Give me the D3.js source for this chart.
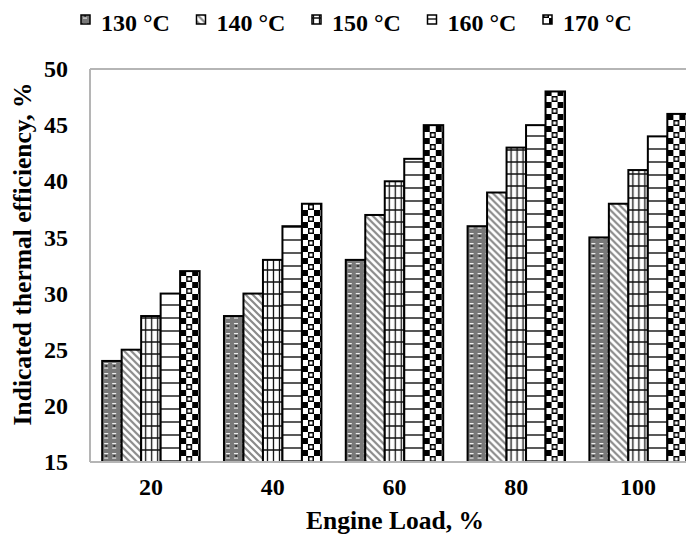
<!DOCTYPE html>
<html>
<head>
<meta charset="utf-8">
<script src="https://cdn.jsdelivr.net/npm/d3@7"></script>
<style>
  html, body { margin: 0; padding: 0; background: #fff; }
</style>
</head>
<body>
<div class="app"></div>
<script>
// Data
const loads = ['20', '40', '60', '80', '100'];
const series = ['130 °C', '140 °C', '150 °C', '160 °C', '170 °C'];
const t130 = [24, 28, 33, 36, 35];
const t140 = [25, 30, 37, 39, 38];
const t150 = [28, 33, 40, 43, 41];
const t160 = [30, 36, 42, 45, 44];
const t170 = [32, 38, 45, 48, 46];
const yTicks = [15, 20, 25, 30, 35, 40, 45, 50];

const values = [t130, t140, t150, t160, t170];
const rows = loads.map((l, i) => ({ load: l, vals: values.map(v => v[i]) }));

const FONT = "'Liberation Serif', 'DejaVu Serif', serif";

// Setup
const width = 686, height = 541;
const margin = { left: 90, top: 69, right: -13, bottom: 79 };

const svg = d3.select('.app')
  .append('svg')
  .attr('width', width)
  .attr('height', height)
  .attr('viewBox', [0, 0, width, height])
  .attr('font-family', FONT)
  .attr('font-weight', 'bold');

svg.append('rect').attr('width', width).attr('height', height).attr('fill', '#fff');

// Patterns
const defs = svg.append('defs');
const pat = (id, w, h) => defs.append('pattern')
  .attr('id', id).attr('patternUnits', 'userSpaceOnUse')
  .attr('width', w).attr('height', h);

let p = pat('p130', 8, 10);
p.append('rect').attr('width', 8).attr('height', 10).attr('fill', '#787878');
p.append('rect').attr('x', 2).attr('y', 3).attr('width', 4).attr('height', 1.2).attr('fill', '#eee');
p.append('rect').attr('x', 3.5).attr('y', 5).attr('width', 1.2).attr('height', 2).attr('fill', '#111');
p.append('rect').attr('x', 2).attr('y', 7.5).attr('width', 4).attr('height', 1.2).attr('fill', '#ddd');

p = pat('p140', 7, 7);
p.append('rect').attr('width', 7).attr('height', 7).attr('fill', '#fff');
p.append('path').attr('d', 'M-1,-1 L8,8 M-1,6 L1,8 M6,-1 L8,1')
  .attr('stroke', '#8a8a8a').attr('stroke-width', 2.2);

p = pat('p150', 6, 12);
p.append('rect').attr('width', 6).attr('height', 12).attr('fill', '#fff');
p.append('path').attr('d', 'M1.5,0 V12 M0,6 H6').attr('stroke', '#111').attr('stroke-width', 1.3);

p = pat('p160', 10, 13);
p.append('rect').attr('width', 10).attr('height', 13).attr('fill', '#fff');
p.append('path').attr('d', 'M0,6 H10').attr('stroke', '#111').attr('stroke-width', 1.4);

p = pat('p170', 12, 12);
p.append('rect').attr('width', 12).attr('height', 12).attr('fill', '#fff');
p.append('rect').attr('x', 0).attr('y', 0).attr('width', 6).attr('height', 6).attr('fill', '#000');
p.append('rect').attr('x', 6).attr('y', 6).attr('width', 6).attr('height', 6).attr('fill', '#000');
p.append('rect').attr('x', 1.5).attr('y', 1.5).attr('width', 3).attr('height', 3).attr('fill', '#fff');

const fills = ['url(#p130)', 'url(#p140)', 'url(#p150)', 'url(#p160)', 'url(#p170)'];

// Scales
const x0 = d3.scaleBand()
  .domain(loads)
  .range([margin.left, width - margin.right])
  .paddingInner(0.2)
  .paddingOuter(0.1);

const x1 = d3.scaleBand()
  .domain(d3.range(series.length))
  .range([0, x0.bandwidth()]);

const y = d3.scaleLinear()
  .domain([15, 50])
  .range([height - margin.bottom, margin.top]);

// Bars
svg.append('g')
  .selectAll('g')
  .data(rows)
  .join('g')
  .attr('transform', d => `translate(${x0(d.load)},0)`)
  .selectAll('rect')
  .data(d => d.vals)
  .join('rect')
  .attr('x', (d, i) => x1(i))
  .attr('y', d => y(d))
  .attr('width', x1.bandwidth())
  .attr('height', d => y(15) - y(d))
  .attr('fill', (d, i) => fills[i])
  .attr('stroke', '#000')
  .attr('stroke-width', 2);

// Frame
const frame = svg.append('g').attr('stroke', '#b5b5b5').attr('stroke-width', 2).attr('fill', 'none');
frame.append('line').attr('x1', margin.left).attr('x2', width).attr('y1', y(50)).attr('y2', y(50));
frame.append('line').attr('x1', margin.left).attr('x2', width).attr('y1', y(15)).attr('y2', y(15));
frame.append('line').attr('x1', margin.left).attr('x2', margin.left).attr('y1', y(50)).attr('y2', y(15));

// Axes
const yAxis = svg.append('g')
  .attr('transform', `translate(${margin.left},0)`)
  .call(d3.axisLeft(y).tickValues(yTicks).tickSize(0).tickPadding(22))
  .attr('font-family', FONT)
  .attr('font-size', 24);
yAxis.select('.domain').remove();

const xAxis = svg.append('g')
  .attr('transform', `translate(0,${y(15)})`)
  .call(d3.axisBottom(x0).tickSize(0).tickPadding(16))
  .attr('font-family', FONT)
  .attr('font-size', 24);
xAxis.select('.domain').remove();

// Axis titles
svg.append('text')
  .attr('x', 395).attr('y', 529)
  .attr('text-anchor', 'middle')
  .attr('font-size', 25.5)
  .text('Engine Load, %');

svg.append('text')
  .attr('transform', 'translate(31,254) rotate(-90)')
  .attr('text-anchor', 'middle')
  .attr('font-size', 25.5)
  .text('Indicated thermal efficiency, %');

// Legend
const legend = svg.append('g')
  .selectAll('g')
  .data(series)
  .join('g')
  .attr('transform', (d, i) => `translate(${81 + i * 115.5},0)`);

legend.append('rect')
  .attr('x', 0).attr('y', 15)
  .attr('width', 9).attr('height', 9)
  .attr('fill', (d, i) => fills[i])
  .attr('stroke', '#000').attr('stroke-width', 1.5);

legend.append('text')
  .attr('x', 20).attr('y', 31)
  .attr('font-size', 24)
  .text(d => d);
</script>
</body>
</html>
